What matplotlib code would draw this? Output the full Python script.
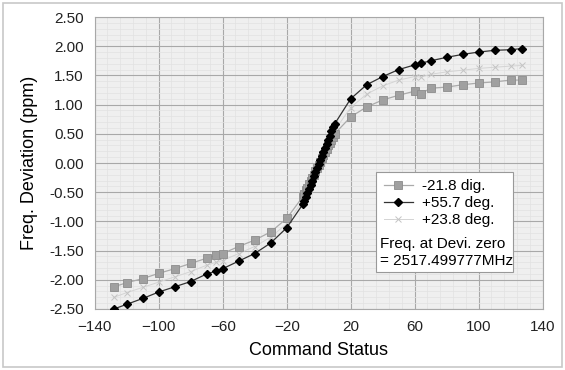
import matplotlib.pyplot as plt
import numpy as np
from matplotlib.patches import Rectangle

plt.rcParams['font.family'] = ['Liberation Sans', 'DejaVu Sans']

# command status values (outer points + dense centre sweep)
cmd_outer_lo = [-128, -120, -110, -100, -90, -80, -70, -64, -60, -50, -40, -30, -20]
cmd_centre = list(range(-10, 11))
cmd_outer_hi = [20, 30, 40, 50, 60, 64, 70, 80, 90, 100, 110, 120, 127]
cmd = cmd_outer_lo + cmd_centre + cmd_outer_hi

# -21.8 dig.
dev_m218 = [-2.12, -2.05, -1.98, -1.89, -1.81, -1.72, -1.63, -1.58, -1.55, -1.43, -1.32, -1.18, -0.95,
            -0.58, -0.53, -0.47, -0.42, -0.36, -0.31, -0.25, -0.20, -0.14, -0.09, -0.03,
            0.02, 0.08, 0.13, 0.19, 0.24, 0.30, 0.35, 0.40, 0.45, 0.50,
            0.79, 0.96, 1.08, 1.16, 1.23, 1.19, 1.28, 1.30, 1.34, 1.37, 1.39, 1.42, 1.42]
# +55.7 deg.
dev_p557 = [-2.50, -2.42, -2.32, -2.21, -2.12, -2.03, -1.90, -1.85, -1.81, -1.68, -1.55, -1.37, -1.11,
            -0.71, -0.65, -0.58, -0.51, -0.44, -0.37, -0.30, -0.23, -0.16, -0.09, -0.02,
            0.05, 0.12, 0.19, 0.26, 0.33, 0.40, 0.47, 0.54, 0.61, 0.67,
            1.10, 1.34, 1.48, 1.60, 1.68, 1.71, 1.75, 1.81, 1.86, 1.90, 1.93, 1.94, 1.96]
# +23.8 deg.
dev_p238 = [-2.30, -2.22, -2.13, -2.04, -1.95, -1.86, -1.75, -1.70, -1.67, -1.55, -1.43, -1.27, -1.04,
            -0.65, -0.59, -0.53, -0.47, -0.41, -0.35, -0.29, -0.23, -0.17, -0.11, -0.05,
            0.01, 0.07, 0.13, 0.19, 0.25, 0.31, 0.37, 0.43, 0.49, 0.56,
            0.95, 1.18, 1.32, 1.42, 1.48, 1.47, 1.52, 1.56, 1.59, 1.62, 1.64, 1.66, 1.67]

xticks = [-140, -100, -60, -20, 20, 60, 100, 140]
yticks = np.arange(-2.5, 2.51, 0.5)

fig = plt.figure(figsize=(5.65, 3.70), dpi=100)
ax = fig.add_axes([0.1676, 0.1649, 0.7929, 0.7891])
fig.patches.append(Rectangle((0.006, 0.008), 0.988, 0.984, transform=fig.transFigure,
                             fill=False, edgecolor='#c8c8c8', lw=1.2))

ax.set_facecolor('#efefef')

l1, = ax.plot(cmd, dev_m218, color='#aaaaaa', lw=0.9, marker='s', ms=5.5,
              mfc='#a0a0a0', mec='#8c8c8c', mew=0.6, label='-21.8 dig.', zorder=3)
l2, = ax.plot(cmd, dev_p557, color='#333333', lw=0.9, marker='D', ms=3.6,
              mfc='black', mec='black', label='+55.7 deg.', zorder=4)
l3, = ax.plot(cmd, dev_p238, color='#d4d4d4', lw=0.7, marker='x', ms=4,
              mec='#c4c4c4', mew=0.7, label='+23.8 deg.', zorder=2)

ax.set_xlim(-140, 140)
ax.set_ylim(-2.5, 2.5)
ax.set_xticks(xticks)
ax.set_yticks(yticks)
ax.set_yticklabels(['%.2f' % v for v in yticks])
ax.set_xticks(np.arange(-140, 141, 8), minor=True)
ax.set_yticks(np.arange(-2.5, 2.51, 0.1), minor=True)
ax.grid(True, which='major', color='#a8a8a8', lw=0.8)
ax.grid(True, which='minor', color='#e2e2e2', lw=0.5)
ax.set_axisbelow(True)
ax.tick_params(which='both', length=0, labelsize=11, pad=8, colors='#222222')
for s in ax.spines.values():
    s.set_color('#a8a8a8')
    s.set_linewidth(0.8)

ax.set_xlabel('Command Status', fontsize=13, labelpad=6)
ax.set_ylabel('Freq. Deviation (ppm)', fontsize=13, labelpad=8)

# legend box with the note underneath
ax.add_patch(Rectangle((0.628, 0.127), 0.306, 0.342, transform=ax.transAxes,
                       facecolor='white', edgecolor='#999999', lw=0.8, zorder=5))
leg = ax.legend(handles=[l1, l2, l3], loc='upper left', bbox_to_anchor=(0.632, 0.465),
                frameon=False, fontsize=11, handlelength=1.9, handletextpad=0.6,
                labelspacing=0.2, borderaxespad=0)
leg.set_zorder(6)
ax.text(0.636, 0.222, 'Freq. at Devi. zero', transform=ax.transAxes,
        fontsize=11, va='center', zorder=7)
ax.text(0.636, 0.165, '= 2517.499777MHz', transform=ax.transAxes,
        fontsize=11, va='center', zorder=7)

fig.savefig('out.png', dpi=100)
